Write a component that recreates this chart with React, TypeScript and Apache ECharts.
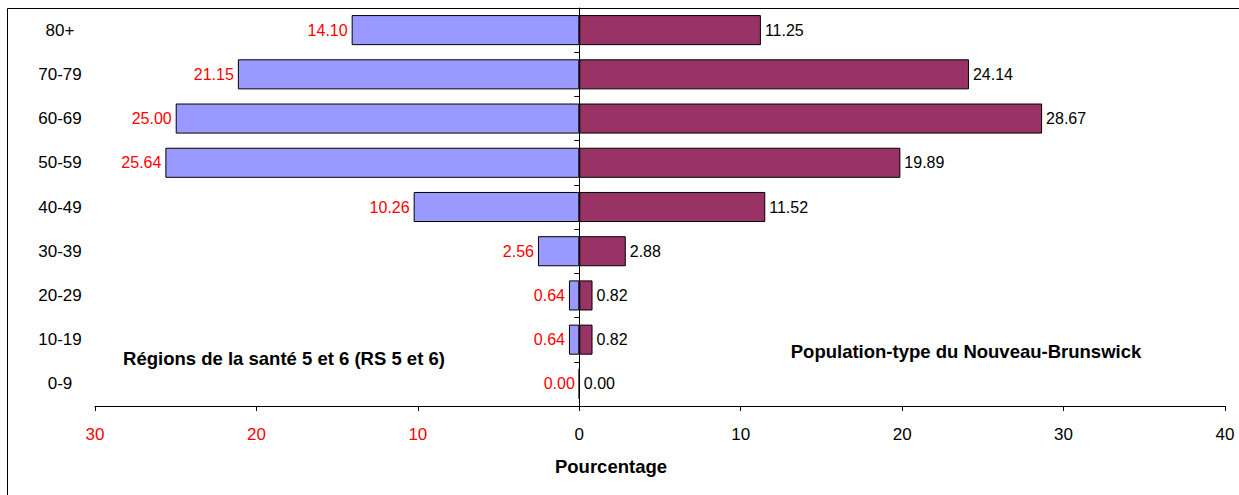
import React, { useEffect, useRef } from "react";
import * as echarts from "echarts";

const categories = ["0-9", "10-19", "20-29", "30-39", "40-49", "50-59", "60-69", "70-79", "80+"];
const rsValues = [0.0, 0.64, 0.64, 2.56, 10.26, 25.64, 25.0, 21.15, 14.1];
const nbValues = [0.0, 0.82, 0.82, 2.88, 11.52, 19.89, 28.67, 24.14, 11.25];
const xTicks = [-30, -20, -10, 0, 10, 20, 30, 40];
const leftLabel = "Régions de la santé 5 et 6 (RS 5 et 6)";
const rightLabel = "Population-type du Nouveau-Brunswick";
const xTitle = "Pourcentage";

const FONT = "'Liberation Sans', Arial, sans-serif";

export default function App() {
  const ref = useRef<HTMLDivElement>(null);
  useEffect(() => {
    if (!ref.current) return;
    const chart = echarts.init(ref.current, null, { renderer: "svg" });
    chart.setOption({
      animation: false,
      backgroundColor: "#ffffff",
      textStyle: { fontFamily: FONT },
      grid: { left: 95, right: 14, top: 8, bottom: 89 },
      xAxis: {
        type: "value",
        min: xTicks[0],
        max: xTicks[xTicks.length - 1],
        interval: 10,
        splitLine: { show: false },
        axisLine: { show: true, onZero: false, lineStyle: { color: "#000", width: 1 } },
        axisTick: { show: true, length: 5, lineStyle: { color: "#000" } },
        axisLabel: {
          margin: 20,
          fontSize: 17,
          fontFamily: FONT,
          formatter: (v: number) => String(Math.abs(v)),
          color: (v: any) => (Number(v) < 0 ? "#ff0000" : "#000000"),
        },
      },
      yAxis: [
        {
          type: "category",
          data: categories,
          position: "left",
          axisLine: { show: false, onZero: false },
          axisTick: { show: false },
          axisLabel: {
            fontSize: 17,
            color: "#000",
            fontFamily: FONT,
            align: "center",
            margin: 35,
          },
        },
        {
          type: "category",
          data: categories,
          position: "left",
          axisLine: { show: true, onZero: true, onZeroAxisIndex: 0, lineStyle: { color: "#000", width: 1 } },
          axisTick: { show: true, length: 5, lineStyle: { color: "#000" } },
          axisLabel: { show: false },
        },
      ],
      series: [
        {
          type: "bar",
          name: "RS",
          data: rsValues.map((v) => -v),
          barWidth: "68%",
          barGap: "-100%",
          itemStyle: { color: "#9999ff", borderColor: "#000", borderWidth: 1 },
          label: {
            show: true,
            position: "left",
            distance: 4,
            color: "#ff0000",
            fontSize: 16,
            fontFamily: FONT,
            formatter: (p: any) => Math.abs(p.value).toFixed(2),
          },
        },
        {
          type: "bar",
          name: "NB",
          data: nbValues,
          barWidth: "68%",
          itemStyle: { color: "#993366", borderColor: "#000", borderWidth: 1 },
          label: {
            show: true,
            position: "right",
            distance: 4,
            color: "#000",
            fontSize: 16,
            fontFamily: FONT,
            formatter: (p: any) => Number(p.value).toFixed(2),
          },
        },
      ],
      graphic: [
        { type: "line", shape: { x1: 7.5, y1: 8.5, x2: 1239, y2: 8.5 }, style: { stroke: "#000", lineWidth: 1 } },
        { type: "line", shape: { x1: 7.5, y1: 8.5, x2: 7.5, y2: 495 }, style: { stroke: "#000", lineWidth: 1 } },
        {
          type: "text",
          x: 611,
          y: 466,
          style: { text: xTitle, fontSize: 18.5, fontWeight: "bold", fill: "#000", align: "center", verticalAlign: "middle", fontFamily: FONT },
        },
        {
          type: "text",
          x: 284,
          y: 358,
          style: { text: leftLabel, fontSize: 18.5, fontWeight: "bold", fill: "#000", align: "center", verticalAlign: "middle", fontFamily: FONT },
        },
        {
          type: "text",
          x: 966,
          y: 351,
          style: { text: rightLabel, fontSize: 18.5, fontWeight: "bold", fill: "#000", align: "center", verticalAlign: "middle", fontFamily: FONT },
        },
      ],
    });
    return () => chart.dispose();
  }, []);
  return (
    <div
      ref={ref}
      style={{ position: "fixed", left: 0, top: 0, width: 1239, height: 495 }}
    />
  );
}
